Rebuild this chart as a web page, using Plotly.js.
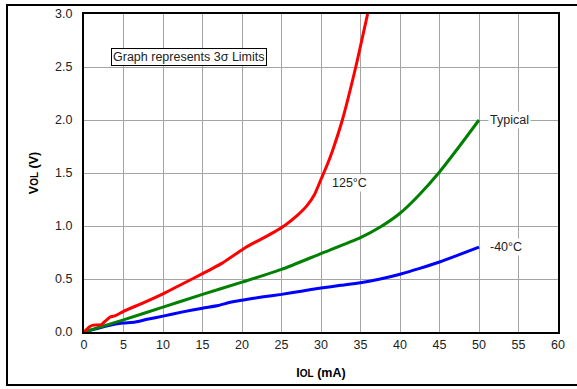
<!DOCTYPE html>
<html>
<head>
<meta charset="utf-8">
<script src="https://cdn.plot.ly/plotly-3.0.1.min.js"></script>
<style>
html,body{margin:0;padding:0;background:#fff;overflow:hidden;width:577px;height:389px;}
#wrap{position:relative;width:577px;height:389px;overflow:hidden;}
#chart{width:577px;height:389px;}
#frame{position:absolute;left:6px;top:4px;width:571px;height:382px;box-sizing:border-box;border:2.5px solid #000;border-right:none;pointer-events:none;}
</style>
</head>
<body>
<div id="wrap"><div id="chart"></div><div id="frame"></div></div>
<script>
// Red: 125°C
const redX = [0, 0.7, 1.2, 2.2, 2.8, 3.3, 4.0, 5, 7.5, 10, 12.5, 15, 17.5, 19.5, 20.5, 22, 24, 25.5, 27, 28.2, 29.2, 30, 30.8, 31.5, 32.7, 34.4, 35.9];
const redY = [0, 0.05, 0.065, 0.07, 0.11, 0.14, 0.155, 0.195, 0.275, 0.36, 0.455, 0.55, 0.65, 0.75, 0.80, 0.86, 0.94, 1.01, 1.10, 1.19, 1.30, 1.44, 1.58, 1.72, 2.0, 2.5, 3.0];
// Green: Typical
const greenX = [0, 5, 10, 15, 20, 25, 30, 35, 37.5, 40, 42.5, 45, 47.5, 50];
const greenY = [0, 0.115, 0.235, 0.355, 0.47, 0.59, 0.74, 0.89, 0.99, 1.12, 1.3, 1.51, 1.75, 2.0];
// Blue: -40°C
const blueX = [0, 2, 4, 5, 6.5, 8, 10, 12.5, 15, 17, 18.5, 20, 22.5, 25, 27.5, 30, 32.5, 35, 37.5, 40, 42.5, 45, 47.5, 50];
const blueY = [0, 0.04, 0.075, 0.085, 0.095, 0.12, 0.15, 0.19, 0.225, 0.25, 0.28, 0.30, 0.33, 0.355, 0.385, 0.415, 0.44, 0.465, 0.50, 0.545, 0.60, 0.66, 0.73, 0.80];

const xTicks = [0, 5, 10, 15, 20, 25, 30, 35, 40, 45, 50, 55, 60];
const yTicks = [0, 0.5, 1.0, 1.5, 2.0, 2.5, 3.0];
const yTickText = ["0.0", "0.5", "1.0", "1.5", "2.0", "2.5", "3.0"];

const FONT = "Liberation Sans, Arial, sans-serif";
const FS = 12.5;

const traces = [
  {x: blueX, y: blueY, mode: 'lines', line: {color: '#0000ff', width: 3, shape: 'spline', smoothing: 0.6}, name: '-40°C'},
  {x: greenX, y: greenY, mode: 'lines', line: {color: '#008000', width: 3, shape: 'spline', smoothing: 0.6}, name: 'Typical'},
  {x: redX, y: redY, mode: 'lines', line: {color: '#ff0000', width: 3, shape: 'spline', smoothing: 0.5}, name: '125°C'}
];

const layout = {
  width: 577, height: 389,
  margin: {l: 84, r: 19, t: 14, b: 57},
  paper_bgcolor: '#ffffff', plot_bgcolor: '#ffffff',
  showlegend: false,
  font: {family: FONT, size: FS, color: '#222'},
  xaxis: {
    range: [0, 60], tickmode: 'array', tickvals: xTicks, ticktext: xTicks.map(String),
    showgrid: true, gridcolor: '#a4a4a4', gridwidth: 1,
    zeroline: false, showline: true, linecolor: '#000', linewidth: 2, mirror: true,
    ticks: '',
    title: {text: '<b>I<span style="font-size:10px">OL</span> (mA)</b>', font: {size: FS, color: '#000'}, standoff: 17}
  },
  yaxis: {
    range: [0, 3.0], tickmode: 'array', tickvals: yTicks, ticktext: yTickText,
    showgrid: true, gridcolor: '#a4a4a4', gridwidth: 1,
    zeroline: false, showline: true, linecolor: '#000', linewidth: 2, mirror: true,
    ticks: 'outside', ticklen: 7, tickcolor: 'rgba(0,0,0,0)',
    title: {text: '<b>V<span style="font-size:10px">OL</span> (V)</b>', font: {size: FS, color: '#000'}, standoff: 14}
  },
  annotations: [
    {x: 13.35, y: 2.59, xref: 'x', yref: 'y', text: 'Graph represents 3σ Limits', showarrow: false,
     bgcolor: '#fff', bordercolor: '#000', borderwidth: 1, borderpad: 1, font: {size: FS, color: '#222'}},
    {x: 53.9, y: 2.0, xref: 'x', yref: 'y', text: 'Typical', showarrow: false, bgcolor: '#fff', borderpad: 1, font: {size: FS, color: '#222'}},
    {x: 33.6, y: 1.41, xref: 'x', yref: 'y', text: '125°C', showarrow: false, bgcolor: '#fff', borderpad: 1, font: {size: FS, color: '#222'}},
    {x: 53.4, y: 0.805, xref: 'x', yref: 'y', text: '-40°C', showarrow: false, bgcolor: '#fff', borderpad: 1, font: {size: FS, color: '#222'}}
  ]
};

Plotly.newPlot('chart', traces, layout, {staticPlot: true, displayModeBar: false});
</script>
</body>
</html>
